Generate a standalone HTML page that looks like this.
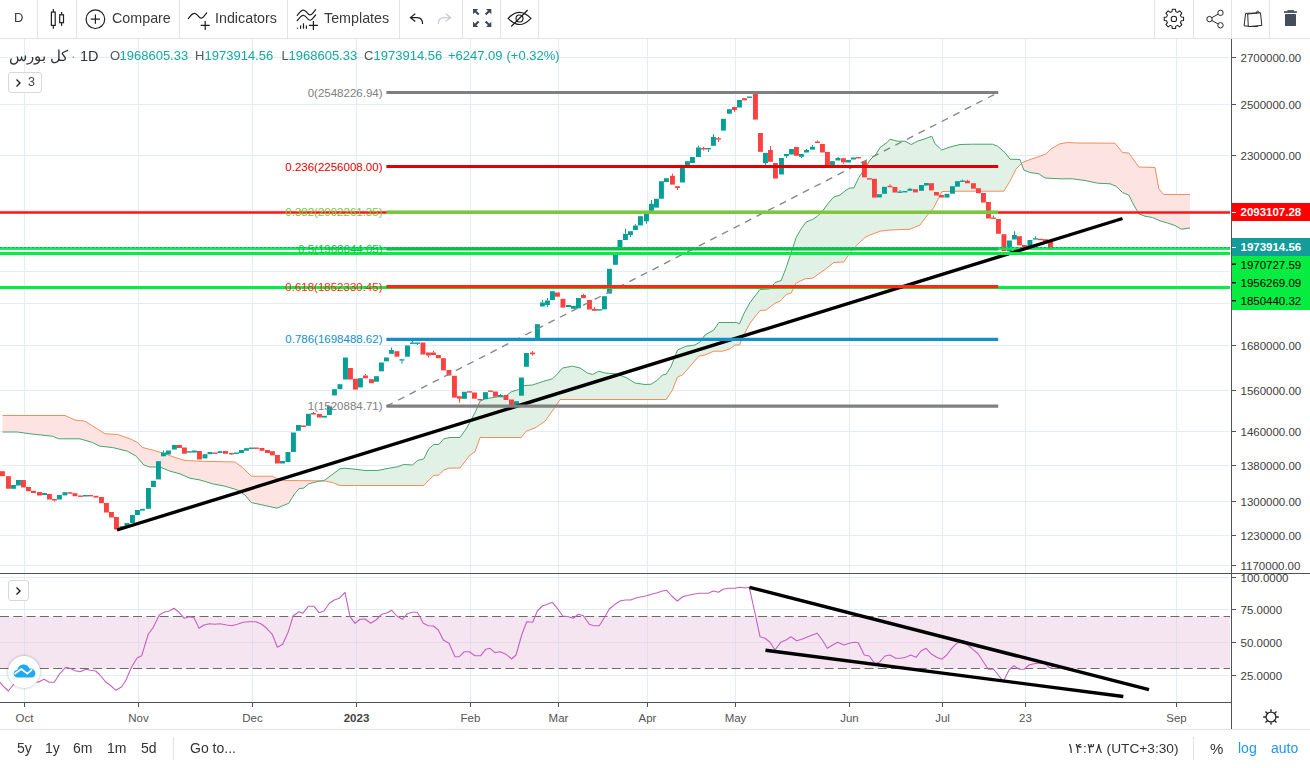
<!DOCTYPE html>
<html lang="en">
<head>
<meta charset="utf-8">
<title>Chart</title>
<style>
html,body{margin:0;padding:0;background:#fff;}
body{width:1310px;height:768px;position:relative;overflow:hidden;font-family:"Liberation Sans","Noto Sans CJK SC",sans-serif;color:#333;}
#chart{position:absolute;left:0;top:0;width:1310px;height:768px;}
.tb{position:absolute;left:0;top:0;width:1310px;height:38px;background:#fff;border-bottom:1px solid #e0e3eb;box-sizing:content-box;}
.sep{position:absolute;top:0;width:1px;height:38px;background:#e0e3eb;}
.t{position:absolute;top:0;height:38px;line-height:36.5px;font-size:14.3px;color:#3a3a3a;white-space:nowrap;}
.ic{position:absolute;}
.t,.b,.legend,.btn span{will-change:transform;}
.bb{position:absolute;left:0;top:729px;width:1310px;height:38px;background:#fff;border-top:1px solid #e0e3eb;}
.b{position:absolute;top:0;height:37px;line-height:37px;font-size:14px;color:#333;white-space:nowrap;}
.legend{position:absolute;left:0;top:44.5px;height:22px;line-height:22px;white-space:nowrap;}
.legend span{position:absolute;top:0;}
.btn{position:absolute;box-sizing:border-box;border:1px solid #d5d8e0;border-radius:3px;background:#fff;}
</style>
</head>
<body>
<svg id="chart" width="1310" height="768" viewBox="0 0 1310 768">
<line x1="24.5" y1="39" x2="24.5" y2="702" stroke="#e3edf3" stroke-width="1"/>
<line x1="138.5" y1="39" x2="138.5" y2="702" stroke="#e3edf3" stroke-width="1"/>
<line x1="252.5" y1="39" x2="252.5" y2="702" stroke="#e3edf3" stroke-width="1"/>
<line x1="356.5" y1="39" x2="356.5" y2="702" stroke="#e3edf3" stroke-width="1"/>
<line x1="470.5" y1="39" x2="470.5" y2="702" stroke="#e3edf3" stroke-width="1"/>
<line x1="558.5" y1="39" x2="558.5" y2="702" stroke="#e3edf3" stroke-width="1"/>
<line x1="647.5" y1="39" x2="647.5" y2="702" stroke="#e3edf3" stroke-width="1"/>
<line x1="735.5" y1="39" x2="735.5" y2="702" stroke="#e3edf3" stroke-width="1"/>
<line x1="849.5" y1="39" x2="849.5" y2="702" stroke="#e3edf3" stroke-width="1"/>
<line x1="942.5" y1="39" x2="942.5" y2="702" stroke="#e3edf3" stroke-width="1"/>
<line x1="1025.5" y1="39" x2="1025.5" y2="702" stroke="#e3edf3" stroke-width="1"/>
<line x1="1176.5" y1="39" x2="1176.5" y2="702" stroke="#e3edf3" stroke-width="1"/>
<line x1="0" y1="57.5" x2="1230" y2="57.5" stroke="#e3edf3" stroke-width="1"/>
<line x1="0" y1="104.5" x2="1230" y2="104.5" stroke="#e3edf3" stroke-width="1"/>
<line x1="0" y1="155.5" x2="1230" y2="155.5" stroke="#e3edf3" stroke-width="1"/>
<line x1="0" y1="345.5" x2="1230" y2="345.5" stroke="#e3edf3" stroke-width="1"/>
<line x1="0" y1="390.5" x2="1230" y2="390.5" stroke="#e3edf3" stroke-width="1"/>
<line x1="0" y1="431.5" x2="1230" y2="431.5" stroke="#e3edf3" stroke-width="1"/>
<line x1="0" y1="465.5" x2="1230" y2="465.5" stroke="#e3edf3" stroke-width="1"/>
<line x1="0" y1="501.5" x2="1230" y2="501.5" stroke="#e3edf3" stroke-width="1"/>
<line x1="0" y1="535.5" x2="1230" y2="535.5" stroke="#e3edf3" stroke-width="1"/>
<line x1="0" y1="565.5" x2="1230" y2="565.5" stroke="#e3edf3" stroke-width="1"/>
<line x1="0" y1="210.5" x2="1230" y2="210.5" stroke="#e3edf3" stroke-width="1"/>
<line x1="0" y1="271.5" x2="1230" y2="271.5" stroke="#e3edf3" stroke-width="1"/>
<line x1="0" y1="303.5" x2="1230" y2="303.5" stroke="#e3edf3" stroke-width="1"/>
<line x1="0" y1="577.5" x2="1230" y2="577.5" stroke="#e3edf3" stroke-width="1"/>
<line x1="0" y1="609.5" x2="1230" y2="609.5" stroke="#e3edf3" stroke-width="1"/>
<line x1="0" y1="642.5" x2="1230" y2="642.5" stroke="#e3edf3" stroke-width="1"/>
<line x1="0" y1="675.5" x2="1230" y2="675.5" stroke="#e3edf3" stroke-width="1"/>
<polygon points="2.5,415.5 65,415.5 75,420 85,421.2 95,427.5 105,433.8 117.5,434.5 130,438.8 137.5,442.5 142.5,447.5 152.5,450 162.5,453 175,457.5 185,460.5 200,461.2 235,462 242.5,467.5 251.2,476.2 272.5,476.2 277.5,478.8 285,480.5 315,480.8 323.8,480.8 323.8,480.8 318.8,481.2 308.8,483.8 303.8,488 298.8,488.8 293.8,495 288.8,503.2 277,508.2 262.5,505 251.2,502.5 245,495 237.5,490 225,486.2 212.5,483.8 200,480 190,478.2 180,473.8 170,471.2 160,467 150,467 143.8,465 136.2,456.2 127.5,451.2 112.5,447.5 100,446.2 92.5,442.5 80,438.8 58.8,438.8 52.5,436.2 30,433.8 17.5,432 2.5,432" fill="#fde4e2"/>
<polygon points="323.8,480.8 330,476.2 340,468.8 345,468.2 355,469.2 365,470.5 377.5,470.5 390,468 397.5,466.8 403.8,464.5 412.5,465 417.5,460.5 423.8,458.8 428.8,448.8 433.8,444.5 438.8,444.5 443.8,438.8 450,437.5 460,437.5 466.2,428.8 471.2,420 476.2,410 480,401.2 485,398.8 497.5,396.8 505,396.8 511.2,391.8 518.8,389.5 525,385.5 532.5,385 543.8,381.2 552.5,378.8 557.5,373.8 562.5,368 572.5,366.2 580,368 587.5,373 592.5,374.5 598.8,371.2 605,373 615,373.8 622.5,376.2 627,378 635,383 645,384.5 651.2,384.2 657.5,380 662.5,375 666.2,374.2 671.2,366.2 677.5,350 686.2,346.2 695,345 700,342 705,335 713.8,330 718.8,322.5 736.2,322.5 739.5,323.8 743.8,313.8 750,302.5 760,289.5 770,288.8 775,282.5 781.2,280.5 786.2,267.5 791.2,252.5 796.2,237.5 801.2,228.8 806.2,222 812.5,219.5 817.5,216.2 822.5,211.2 828.8,202.5 833.8,197 840,195 846.2,190 850,188 853.8,188 858.8,177.5 863.8,170 870,160 876.2,153.8 880,147.5 887,142.5 890,139.2 897.5,141.2 905,141.2 911.2,144.5 917.5,141.2 925,138.8 931.8,136.2 935,143.8 941.8,150 950,147 960,144.5 972.5,144.2 992.5,144.2 997.5,146.2 1005,152.5 1010,159.2 1020,159.5 1022.5,166.5 1022.5,162.5 1016.2,168.8 1010,181.2 1003.8,191.2 960,191.2 942,191.5 939.5,196.2 933.8,207.5 927.5,215 920,225 910,229.2 890,230 880,231.2 870,235 865,237.5 857.5,244.5 850,252.5 843.8,262 833.8,262.5 825,269.5 812.5,278.2 805,278.8 796.2,283 791.2,293 786.2,294.5 780,301.2 775,303.2 766.2,310 760,310.5 750,323.2 743.8,335 739.5,345 735,345 730,348.8 722.5,351.2 713.8,351.2 705,355 698.8,356.2 691.2,365 682.5,375 677.5,377 672.5,390 666.2,399.5 627,399.5 577,399.5 560,399.5 553.8,408.8 545,421.2 535,428 526.2,431.2 521.2,437.5 480,437.5 475,451.8 470,455 460,468 448.8,468.2 443.8,470 438.8,475 433.8,475.5 428.8,480 423.8,485.5 340,485.5 332.5,482.5 323.8,480.8" fill="#e2f1e5"/>
<polygon points="1022.5,162.5 1030,159.5 1040,156.2 1046.2,153.8 1051.2,148.8 1060,143.8 1067.5,142.5 1077.5,143 1115,143.2 1122.5,152.5 1128.8,153 1133.8,160 1138.8,167 1155,167.5 1158.8,188.8 1163.8,194.5 1190,194.5 1190,228 1181.2,229.2 1175,225.5 1167.5,223 1160,220.8 1152.5,217.5 1145,216.2 1138.8,213.8 1132.5,202.5 1128.8,195 1122.5,192.5 1116.2,186.2 1110,183.8 1097.5,183.2 1085,180.5 1072.5,178.8 1060,178.8 1045,178 1038.8,173.8 1030,172.5 1023.8,170 1022.5,166.5" fill="#fde4e2"/>
<polyline points="2.5,415.5 65,415.5 75,420 85,421.2 95,427.5 105,433.8 117.5,434.5 130,438.8 137.5,442.5 142.5,447.5 152.5,450 162.5,453 175,457.5 185,460.5 200,461.2 235,462 242.5,467.5 251.2,476.2 272.5,476.2 277.5,478.8 285,480.5 315,480.8 323.8,480.8 332.5,482.5 340,485.5 423.8,485.5 428.8,480 433.8,475.5 438.8,475 443.8,470 448.8,468.2 460,468 470,455 475,451.8 480,437.5 521.2,437.5 526.2,431.2 535,428 545,421.2 553.8,408.8 560,399.5 577,399.5 627,399.5 666.2,399.5 672.5,390 677.5,377 682.5,375 691.2,365 698.8,356.2 705,355 713.8,351.2 722.5,351.2 730,348.8 735,345 739.5,345 743.8,335 750,323.2 760,310.5 766.2,310 775,303.2 780,301.2 786.2,294.5 791.2,293 796.2,283 805,278.8 812.5,278.2 825,269.5 833.8,262.5 843.8,262 850,252.5 857.5,244.5 865,237.5 870,235 880,231.2 890,230 910,229.2 920,225 927.5,215 933.8,207.5 939.5,196.2 942,191.5 960,191.2 1003.8,191.2 1010,181.2 1016.2,168.8 1022.5,162.5 1030,159.5 1040,156.2 1046.2,153.8 1051.2,148.8 1060,143.8 1067.5,142.5 1077.5,143 1115,143.2 1122.5,152.5 1128.8,153 1133.8,160 1138.8,167 1155,167.5 1158.8,188.8 1163.8,194.5 1190,194.5" fill="none" stroke="#f48d5e" stroke-width="1" stroke-linejoin="round"/>
<polyline points="2.5,432 17.5,432 30,433.8 52.5,436.2 58.8,438.8 80,438.8 92.5,442.5 100,446.2 112.5,447.5 127.5,451.2 136.2,456.2 143.8,465 150,467 160,467 170,471.2 180,473.8 190,478.2 200,480 212.5,483.8 225,486.2 237.5,490 245,495 251.2,502.5 262.5,505 277,508.2 288.8,503.2 293.8,495 298.8,488.8 303.8,488 308.8,483.8 318.8,481.2 323.8,480.8 330,476.2 340,468.8 345,468.2 355,469.2 365,470.5 377.5,470.5 390,468 397.5,466.8 403.8,464.5 412.5,465 417.5,460.5 423.8,458.8 428.8,448.8 433.8,444.5 438.8,444.5 443.8,438.8 450,437.5 460,437.5 466.2,428.8 471.2,420 476.2,410 480,401.2 485,398.8 497.5,396.8 505,396.8 511.2,391.8 518.8,389.5 525,385.5 532.5,385 543.8,381.2 552.5,378.8 557.5,373.8 562.5,368 572.5,366.2 580,368 587.5,373 592.5,374.5 598.8,371.2 605,373 615,373.8 622.5,376.2 627,378 635,383 645,384.5 651.2,384.2 657.5,380 662.5,375 666.2,374.2 671.2,366.2 677.5,350 686.2,346.2 695,345 700,342 705,335 713.8,330 718.8,322.5 736.2,322.5 739.5,323.8 743.8,313.8 750,302.5 760,289.5 770,288.8 775,282.5 781.2,280.5 786.2,267.5 791.2,252.5 796.2,237.5 801.2,228.8 806.2,222 812.5,219.5 817.5,216.2 822.5,211.2 828.8,202.5 833.8,197 840,195 846.2,190 850,188 853.8,188 858.8,177.5 863.8,170 870,160 876.2,153.8 880,147.5 887,142.5 890,139.2 897.5,141.2 905,141.2 911.2,144.5 917.5,141.2 925,138.8 931.8,136.2 935,143.8 941.8,150 950,147 960,144.5 972.5,144.2 992.5,144.2 997.5,146.2 1005,152.5 1010,159.2 1020,159.5 1023.8,170 1030,172.5 1038.8,173.8 1045,178 1060,178.8 1072.5,178.8 1085,180.5 1097.5,183.2 1110,183.8 1116.2,186.2 1122.5,192.5 1128.8,195 1132.5,202.5 1138.8,213.8 1145,216.2 1152.5,217.5 1160,220.8 1167.5,223 1175,225.5 1181.2,229.2 1190,228" fill="none" stroke="#45a56d" stroke-width="1" stroke-linejoin="round"/>
<rect x="0" y="471.2" width="4.9" height="5" fill="#fd4141"/>
<rect x="6" y="476.2" width="4.9" height="12.5" fill="#fd4141"/>
<rect x="11" y="485" width="4.9" height="3.8" fill="#049f97"/>
<rect x="16" y="480" width="4.9" height="5.5" fill="#049f97"/>
<rect x="21" y="480" width="4.9" height="7.5" fill="#fd4141"/>
<rect x="26" y="487" width="4.9" height="4.2" fill="#fd4141"/>
<rect x="31" y="490.8" width="4.9" height="2.2" fill="#fd4141"/>
<rect x="37" y="492" width="4.9" height="3.5" fill="#fd4141"/>
<rect x="42" y="493" width="4.9" height="2" fill="#049f97"/>
<rect x="47" y="494" width="4.9" height="5.5" fill="#fd4141"/>
<rect x="52" y="499" width="4.9" height="1.5" fill="#fd4141"/>
<rect x="54" y="500.5" width="1" height="1" fill="#fd4141"/>
<rect x="57" y="495" width="4.9" height="4.5" fill="#049f97"/>
<rect x="62.5" y="492.2" width="4.9" height="3.2" fill="#049f97"/>
<rect x="67.5" y="492.2" width="4.9" height="1.5" fill="#fd4141"/>
<rect x="72.5" y="493.2" width="4.9" height="3" fill="#fd4141"/>
<rect x="78" y="495.5" width="4.9" height="1.4" fill="#fd4141"/>
<rect x="83" y="495" width="4.9" height="1.5" fill="#049f97"/>
<rect x="88" y="495" width="4.9" height="1.4" fill="#fd4141"/>
<rect x="93.5" y="495.8" width="4.9" height="1.8" fill="#fd4141"/>
<rect x="99" y="497" width="4.9" height="6.2" fill="#fd4141"/>
<rect x="104" y="503" width="4.9" height="9.5" fill="#fd4141"/>
<rect x="109" y="512" width="4.9" height="5.5" fill="#fd4141"/>
<rect x="114" y="517" width="4.9" height="12.5" fill="#fd4141"/>
<rect x="119.5" y="526.2" width="4.9" height="1.8" fill="#049f97"/>
<rect x="124.5" y="523" width="4.9" height="3.2" fill="#049f97"/>
<rect x="130" y="515" width="4.9" height="8" fill="#049f97"/>
<rect x="135" y="510" width="4.9" height="5" fill="#049f97"/>
<rect x="140" y="508.8" width="4.9" height="1.8" fill="#049f97"/>
<rect x="146" y="488" width="4.9" height="20.8" fill="#049f97"/>
<rect x="151" y="480.8" width="4.9" height="6.2" fill="#049f97"/>
<rect x="156" y="461.2" width="4.9" height="18.2" fill="#049f97"/>
<rect x="161" y="452.5" width="4.9" height="3.8" fill="#049f97"/>
<rect x="163" y="450.5" width="1" height="2" fill="#049f97"/>
<rect x="166" y="450.5" width="4.9" height="4" fill="#049f97"/>
<rect x="172" y="445" width="4.9" height="4.5" fill="#049f97"/>
<rect x="177" y="445" width="4.9" height="3" fill="#fd4141"/>
<rect x="182" y="447.5" width="4.9" height="6.2" fill="#fd4141"/>
<rect x="187" y="451.2" width="4.9" height="1.4" fill="#049f97"/>
<rect x="192" y="450.5" width="4.9" height="2" fill="#049f97"/>
<rect x="197" y="451" width="4.9" height="8.5" fill="#fd4141"/>
<rect x="202.5" y="454.2" width="4.9" height="4.2" fill="#049f97"/>
<rect x="207.5" y="452" width="4.9" height="2.2" fill="#049f97"/>
<rect x="212.5" y="452.5" width="4.9" height="1.4" fill="#fd4141"/>
<rect x="217.5" y="451.2" width="4.9" height="1.8" fill="#049f97"/>
<rect x="223" y="451" width="4.9" height="2.8" fill="#fd4141"/>
<rect x="229" y="453" width="4.9" height="1.4" fill="#fd4141"/>
<rect x="231" y="454.4" width="1" height="0.6" fill="#fd4141"/>
<rect x="234" y="452.5" width="4.9" height="1.4" fill="#049f97"/>
<rect x="239" y="450" width="4.9" height="3" fill="#049f97"/>
<rect x="244" y="448.2" width="4.9" height="2.5" fill="#049f97"/>
<rect x="249" y="447.5" width="4.9" height="1.5" fill="#049f97"/>
<rect x="254" y="447.5" width="4.9" height="1.4" fill="#fd4141"/>
<rect x="259.5" y="448" width="4.9" height="2.8" fill="#fd4141"/>
<rect x="265" y="450" width="4.9" height="3" fill="#fd4141"/>
<rect x="270" y="451.2" width="4.9" height="4.2" fill="#fd4141"/>
<rect x="275" y="455" width="4.9" height="8.5" fill="#fd4141"/>
<rect x="280" y="461" width="4.9" height="2.5" fill="#049f97"/>
<rect x="285.5" y="452" width="4.9" height="10" fill="#049f97"/>
<rect x="291" y="432.5" width="4.9" height="19.5" fill="#049f97"/>
<rect x="296" y="425" width="4.9" height="5.8" fill="#049f97"/>
<rect x="301" y="425.5" width="4.9" height="1.5" fill="#fd4141"/>
<rect x="306" y="413.8" width="4.9" height="12" fill="#049f97"/>
<rect x="311" y="413" width="4.9" height="1.5" fill="#fd4141"/>
<rect x="313" y="412" width="1" height="1" fill="#fd4141"/>
<rect x="317" y="414" width="4.9" height="3.5" fill="#fd4141"/>
<rect x="322" y="415.8" width="4.9" height="1.8" fill="#049f97"/>
<rect x="327" y="406.2" width="4.9" height="8.8" fill="#049f97"/>
<rect x="332" y="389.2" width="4.9" height="6.2" fill="#049f97"/>
<rect x="337.5" y="384.2" width="4.9" height="5" fill="#049f97"/>
<rect x="343" y="357.5" width="4.9" height="22" fill="#049f97"/>
<rect x="348" y="368" width="4.9" height="11.5" fill="#fd4141"/>
<rect x="353" y="378.8" width="4.9" height="10.8" fill="#fd4141"/>
<rect x="358" y="378.2" width="4.9" height="9.2" fill="#049f97"/>
<rect x="363" y="375.5" width="4.9" height="2.8" fill="#fd4141"/>
<rect x="365" y="374" width="1" height="1.5" fill="#fd4141"/>
<rect x="369" y="379.2" width="4.9" height="4" fill="#fd4141"/>
<rect x="374" y="376.2" width="4.9" height="5.5" fill="#049f97"/>
<rect x="379" y="362.5" width="4.9" height="8.8" fill="#049f97"/>
<rect x="384" y="357.5" width="4.9" height="3.8" fill="#049f97"/>
<rect x="389" y="350" width="4.9" height="3.8" fill="#049f97"/>
<rect x="391" y="347.5" width="1" height="2.5" fill="#049f97"/>
<rect x="394.5" y="351.2" width="4.9" height="5.5" fill="#fd4141"/>
<rect x="399.5" y="359.2" width="4.9" height="1.4" fill="#049f97"/>
<rect x="401.5" y="360.6" width="1" height="3.1" fill="#049f97"/>
<rect x="405" y="345.5" width="4.9" height="11.2" fill="#049f97"/>
<rect x="410" y="342.5" width="4.9" height="1.4" fill="#049f97"/>
<rect x="412" y="340.8" width="1" height="1.8" fill="#049f97"/>
<rect x="415" y="342.5" width="4.9" height="1.4" fill="#049f97"/>
<rect x="417" y="343.9" width="1" height="1.1" fill="#049f97"/>
<rect x="420.5" y="342.5" width="4.9" height="12" fill="#fd4141"/>
<rect x="426" y="352.5" width="4.9" height="3" fill="#fd4141"/>
<rect x="428" y="355.5" width="1" height="2" fill="#fd4141"/>
<rect x="431" y="352.5" width="4.9" height="2.5" fill="#fd4141"/>
<rect x="433" y="350.8" width="1" height="1.8" fill="#fd4141"/>
<rect x="436" y="355" width="4.9" height="3.2" fill="#fd4141"/>
<rect x="441" y="358.2" width="4.9" height="12.2" fill="#fd4141"/>
<rect x="446.5" y="370" width="4.9" height="5.5" fill="#fd4141"/>
<rect x="452" y="375.8" width="4.9" height="21.8" fill="#fd4141"/>
<rect x="457" y="396.2" width="4.9" height="2.5" fill="#fd4141"/>
<rect x="459" y="398.8" width="1" height="3.8" fill="#fd4141"/>
<rect x="462" y="391.8" width="4.9" height="7" fill="#049f97"/>
<rect x="467" y="391.2" width="4.9" height="1.4" fill="#fd4141"/>
<rect x="472" y="392.5" width="4.9" height="6.2" fill="#fd4141"/>
<rect x="477.5" y="399" width="4.9" height="1.4" fill="#fd4141"/>
<rect x="483" y="392.2" width="4.9" height="7" fill="#049f97"/>
<rect x="488" y="390.5" width="4.9" height="1.4" fill="#fd4141"/>
<rect x="493" y="391.5" width="4.9" height="5.2" fill="#fd4141"/>
<rect x="498" y="395" width="4.9" height="1.8" fill="#049f97"/>
<rect x="500" y="393.8" width="1" height="1.2" fill="#049f97"/>
<rect x="503.5" y="395" width="4.9" height="5" fill="#fd4141"/>
<rect x="509" y="399.5" width="4.9" height="5.5" fill="#fd4141"/>
<rect x="514" y="401.2" width="4.9" height="3.8" fill="#049f97"/>
<rect x="519" y="377.5" width="4.9" height="18.2" fill="#049f97"/>
<rect x="524" y="353" width="4.9" height="13.8" fill="#049f97"/>
<rect x="530" y="352.5" width="4.9" height="1.8" fill="#fd4141"/>
<rect x="532" y="351" width="1" height="1.5" fill="#fd4141"/>
<rect x="532" y="354.2" width="1" height="1.5" fill="#fd4141"/>
<rect x="535" y="324.2" width="4.9" height="14.5" fill="#049f97"/>
<rect x="540" y="302.5" width="4.9" height="4" fill="#049f97"/>
<rect x="542" y="300" width="1" height="2.5" fill="#049f97"/>
<rect x="545" y="300.5" width="4.9" height="4.5" fill="#049f97"/>
<rect x="547" y="298" width="1" height="2.5" fill="#049f97"/>
<rect x="547" y="305" width="1" height="2" fill="#049f97"/>
<rect x="550" y="291.2" width="4.9" height="8.8" fill="#049f97"/>
<rect x="555" y="292.5" width="4.9" height="4.2" fill="#fd4141"/>
<rect x="560.5" y="298.8" width="4.9" height="8.8" fill="#fd4141"/>
<rect x="566" y="305" width="4.9" height="2" fill="#049f97"/>
<rect x="571" y="305.8" width="4.9" height="3" fill="#049f97"/>
<rect x="576" y="298" width="4.9" height="10.2" fill="#049f97"/>
<rect x="581" y="295" width="4.9" height="3.2" fill="#fd4141"/>
<rect x="583" y="293.8" width="1" height="1.2" fill="#fd4141"/>
<rect x="587" y="300" width="4.9" height="9.5" fill="#fd4141"/>
<rect x="592" y="308.8" width="4.9" height="2" fill="#fd4141"/>
<rect x="594" y="307" width="1" height="1.8" fill="#fd4141"/>
<rect x="597" y="309.2" width="4.9" height="1.4" fill="#049f97"/>
<rect x="602" y="296.2" width="4.9" height="13.2" fill="#049f97"/>
<rect x="607" y="268.8" width="4.9" height="24.8" fill="#049f97"/>
<rect x="613" y="255" width="4.9" height="9.8" fill="#049f97"/>
<rect x="617.5" y="240" width="4.9" height="7.5" fill="#049f97"/>
<rect x="623" y="233.8" width="4.9" height="6.2" fill="#049f97"/>
<rect x="625" y="228.8" width="1" height="5" fill="#049f97"/>
<rect x="628" y="231.2" width="4.9" height="3.8" fill="#049f97"/>
<rect x="630" y="235" width="1" height="2" fill="#049f97"/>
<rect x="633" y="225.5" width="4.9" height="4.5" fill="#049f97"/>
<rect x="635" y="224.2" width="1" height="1.2" fill="#049f97"/>
<rect x="638" y="216.2" width="4.9" height="9.2" fill="#049f97"/>
<rect x="644" y="213.8" width="4.9" height="7.5" fill="#049f97"/>
<rect x="646" y="221.2" width="1" height="2.5" fill="#049f97"/>
<rect x="649" y="203.8" width="4.9" height="7.5" fill="#049f97"/>
<rect x="651" y="200" width="1" height="3.8" fill="#049f97"/>
<rect x="654" y="198.8" width="4.9" height="8.8" fill="#049f97"/>
<rect x="659" y="181.2" width="4.9" height="17.5" fill="#049f97"/>
<rect x="664" y="178.2" width="4.9" height="3.8" fill="#049f97"/>
<rect x="670" y="175.8" width="4.9" height="8.8" fill="#fd4141"/>
<rect x="672" y="173.8" width="1" height="2" fill="#fd4141"/>
<rect x="675" y="186.2" width="4.9" height="1.8" fill="#fd4141"/>
<rect x="677" y="188" width="1" height="2" fill="#fd4141"/>
<rect x="680" y="167.5" width="4.9" height="15" fill="#049f97"/>
<rect x="685" y="161.2" width="4.9" height="4.2" fill="#049f97"/>
<rect x="690" y="157" width="4.9" height="6" fill="#049f97"/>
<rect x="696" y="147.5" width="4.9" height="9.5" fill="#049f97"/>
<rect x="698" y="145.8" width="1" height="1.8" fill="#049f97"/>
<rect x="701" y="148" width="4.9" height="1.4" fill="#fd4141"/>
<rect x="703" y="146.8" width="1" height="1.2" fill="#fd4141"/>
<rect x="703" y="149.4" width="1" height="1.1" fill="#fd4141"/>
<rect x="706" y="148" width="4.9" height="1.4" fill="#049f97"/>
<rect x="708" y="149.4" width="1" height="2.6" fill="#049f97"/>
<rect x="711" y="137" width="4.9" height="8.8" fill="#049f97"/>
<rect x="713" y="134.2" width="1" height="2.8" fill="#049f97"/>
<rect x="716" y="138.2" width="4.9" height="1.4" fill="#fd4141"/>
<rect x="718" y="137" width="1" height="1.2" fill="#fd4141"/>
<rect x="718" y="139.7" width="1" height="2.3" fill="#fd4141"/>
<rect x="721" y="118.8" width="4.9" height="11.8" fill="#049f97"/>
<rect x="727" y="109.2" width="4.9" height="4.5" fill="#049f97"/>
<rect x="732" y="107" width="4.9" height="3" fill="#fd4141"/>
<rect x="734" y="110" width="1" height="1.8" fill="#fd4141"/>
<rect x="737" y="100" width="4.9" height="7.5" fill="#049f97"/>
<rect x="742" y="98.2" width="4.9" height="2.2" fill="#fd4141"/>
<rect x="747" y="96.5" width="4.9" height="1.4" fill="#049f97"/>
<rect x="753" y="93.8" width="4.9" height="25.8" fill="#fd4141"/>
<rect x="758" y="133" width="4.9" height="18.8" fill="#fd4141"/>
<rect x="763" y="153" width="4.9" height="10.2" fill="#049f97"/>
<rect x="765" y="163.2" width="1" height="1.8" fill="#049f97"/>
<rect x="768" y="150" width="4.9" height="11.8" fill="#fd4141"/>
<rect x="770" y="146.2" width="1" height="3.8" fill="#fd4141"/>
<rect x="773" y="163" width="4.9" height="15.5" fill="#fd4141"/>
<rect x="779" y="158" width="4.9" height="16.5" fill="#049f97"/>
<rect x="784" y="154" width="4.9" height="2.2" fill="#049f97"/>
<rect x="786" y="156.2" width="1" height="1.8" fill="#049f97"/>
<rect x="789" y="149" width="4.9" height="5.5" fill="#049f97"/>
<rect x="794" y="147" width="4.9" height="8.8" fill="#fd4141"/>
<rect x="799" y="154" width="4.9" height="2.8" fill="#049f97"/>
<rect x="801" y="156.8" width="1" height="1.2" fill="#049f97"/>
<rect x="804" y="150" width="4.9" height="2.5" fill="#049f97"/>
<rect x="806" y="149" width="1" height="1" fill="#049f97"/>
<rect x="810" y="146.8" width="4.9" height="2.8" fill="#049f97"/>
<rect x="812" y="145" width="1" height="1.8" fill="#049f97"/>
<rect x="815" y="141.5" width="4.9" height="1.5" fill="#fd4141"/>
<rect x="817" y="140.5" width="1" height="1" fill="#fd4141"/>
<rect x="820" y="144" width="4.9" height="8.5" fill="#fd4141"/>
<rect x="825" y="152" width="4.9" height="13" fill="#fd4141"/>
<rect x="830" y="161.2" width="4.9" height="3.8" fill="#049f97"/>
<rect x="835.5" y="158" width="4.9" height="2.5" fill="#049f97"/>
<rect x="837.5" y="157" width="1" height="1" fill="#049f97"/>
<rect x="841" y="158.2" width="4.9" height="4.2" fill="#fd4141"/>
<rect x="843" y="162.5" width="1" height="1.2" fill="#fd4141"/>
<rect x="846" y="160" width="4.9" height="2.5" fill="#049f97"/>
<rect x="851" y="157.5" width="4.9" height="2" fill="#049f97"/>
<rect x="856" y="157" width="4.9" height="1.4" fill="#fd4141"/>
<rect x="862" y="161.2" width="4.9" height="16.2" fill="#fd4141"/>
<rect x="867" y="178.2" width="4.9" height="1.4" fill="#fd4141"/>
<rect x="872" y="178.8" width="4.9" height="18.8" fill="#fd4141"/>
<rect x="877" y="194.2" width="4.9" height="3.2" fill="#049f97"/>
<rect x="882" y="186.8" width="4.9" height="7" fill="#049f97"/>
<rect x="887.5" y="185.8" width="4.9" height="1.4" fill="#fd4141"/>
<rect x="889.5" y="184.2" width="1" height="1.5" fill="#fd4141"/>
<rect x="892.5" y="187" width="4.9" height="5.5" fill="#fd4141"/>
<rect x="897.5" y="191.5" width="4.9" height="1.4" fill="#049f97"/>
<rect x="899.5" y="190" width="1" height="1.5" fill="#049f97"/>
<rect x="902.5" y="191" width="4.9" height="1.4" fill="#049f97"/>
<rect x="907.5" y="188.8" width="4.9" height="2" fill="#049f97"/>
<rect x="909.5" y="187.8" width="1" height="1" fill="#049f97"/>
<rect x="913" y="189.2" width="4.9" height="3.2" fill="#fd4141"/>
<rect x="919" y="185" width="4.9" height="5.8" fill="#049f97"/>
<rect x="924" y="183" width="4.9" height="2.5" fill="#049f97"/>
<rect x="929" y="183.2" width="4.9" height="7.2" fill="#fd4141"/>
<rect x="934" y="192" width="4.9" height="3.5" fill="#fd4141"/>
<rect x="939" y="195" width="4.9" height="2.5" fill="#fd4141"/>
<rect x="944.5" y="193.8" width="4.9" height="3.8" fill="#049f97"/>
<rect x="950" y="186.2" width="4.9" height="7.5" fill="#049f97"/>
<rect x="955" y="181.2" width="4.9" height="5.5" fill="#049f97"/>
<rect x="960" y="180.5" width="4.9" height="1.4" fill="#049f97"/>
<rect x="962" y="179.5" width="1" height="1" fill="#049f97"/>
<rect x="965" y="180.8" width="4.9" height="2.5" fill="#fd4141"/>
<rect x="967" y="179.8" width="1" height="1" fill="#fd4141"/>
<rect x="971" y="183.2" width="4.9" height="5.5" fill="#fd4141"/>
<rect x="976" y="188.2" width="4.9" height="5" fill="#fd4141"/>
<rect x="981" y="193" width="4.9" height="9.5" fill="#fd4141"/>
<rect x="986" y="202" width="4.9" height="16.5" fill="#fd4141"/>
<rect x="991" y="217.5" width="4.9" height="1.4" fill="#fd4141"/>
<rect x="993" y="215.5" width="1" height="2" fill="#fd4141"/>
<rect x="996" y="219" width="4.9" height="14.8" fill="#fd4141"/>
<rect x="1001.5" y="234.2" width="4.9" height="17" fill="#fd4141"/>
<rect x="1007" y="240.5" width="4.9" height="10.8" fill="#049f97"/>
<rect x="1012" y="235" width="4.9" height="4.5" fill="#049f97"/>
<rect x="1014" y="231.2" width="1" height="3.8" fill="#049f97"/>
<rect x="1017" y="236.2" width="4.9" height="9.2" fill="#fd4141"/>
<rect x="1022" y="245" width="4.9" height="2.5" fill="#fd4141"/>
<rect x="1027.5" y="240" width="4.9" height="7.5" fill="#049f97"/>
<rect x="1033" y="238.2" width="4.9" height="1.4" fill="#049f97"/>
<rect x="1035" y="236.2" width="1" height="2" fill="#049f97"/>
<rect x="1038" y="238.8" width="4.9" height="1.4" fill="#fd4141"/>
<rect x="1043" y="239.2" width="4.9" height="2" fill="#fd4141"/>
<rect x="1048" y="240.8" width="4.9" height="8.5" fill="#fd4141"/>
<line x1="0" y1="212.5" x2="1230" y2="212.5" stroke="#ff1414" stroke-width="2.4"/>
<line x1="0" y1="248.6" x2="1230" y2="248.6" stroke="#04ec46" stroke-width="3" stroke-opacity="0.92"/>
<line x1="0" y1="287.5" x2="1230" y2="287.5" stroke="#04ec46" stroke-width="3"/>
<line x1="0" y1="247.5" x2="1230" y2="247.5" stroke="#0f9f98" stroke-width="1" stroke-dasharray="2,2"/>
<line x1="117" y1="530" x2="1122.5" y2="218.5" stroke="#000" stroke-width="3.4" stroke-linecap="butt"/>
<line x1="386.4" y1="406.2" x2="998.2" y2="92.5" stroke="#858585" stroke-width="1.35" stroke-dasharray="7,6"/>
<line x1="386.4" y1="92.5" x2="998.2" y2="92.5" stroke="#808080" stroke-width="3.2"/>
<line x1="386.4" y1="166.5" x2="998.2" y2="166.5" stroke="#e00000" stroke-width="3.2"/>
<line x1="386.4" y1="212.3" x2="998.2" y2="212.3" stroke="#7cc73a" stroke-width="3.4"/>
<line x1="386.4" y1="249" x2="998.2" y2="249" stroke="#06c240" stroke-width="3.2"/>
<line x1="386.4" y1="286.6" x2="998.2" y2="286.6" stroke="#ff2a12" stroke-width="3.2"/>
<line x1="386.4" y1="339.3" x2="998.2" y2="339.3" stroke="#1390c8" stroke-width="3.2"/>
<line x1="386.4" y1="406.2" x2="998.2" y2="406.2" stroke="#808080" stroke-width="3.2"/>
<line x1="0" y1="253.5" x2="1230" y2="253.5" stroke="#04ec46" stroke-width="3"/>
<text x="382.5" y="96.5" text-anchor="end" font-size="11.5" fill="#808080" font-family="Liberation Sans, sans-serif">0(2548226.94)</text>
<text x="382.5" y="170.5" text-anchor="end" font-size="11.5" fill="#e00000" font-family="Liberation Sans, sans-serif">0.236(2256008.00)</text>
<text x="382.5" y="216.3" text-anchor="end" font-size="11.5" fill="#7cc73a" font-family="Liberation Sans, sans-serif">0.382(2092261.35)</text>
<text x="382.5" y="253" text-anchor="end" font-size="11.5" fill="#06c240" font-family="Liberation Sans, sans-serif">0.5(1968644.05)</text>
<text x="382.5" y="290.6" text-anchor="end" font-size="11.5" fill="#ff2a12" font-family="Liberation Sans, sans-serif">0.618(1852330.45)</text>
<text x="382.5" y="343.3" text-anchor="end" font-size="11.5" fill="#1390c8" font-family="Liberation Sans, sans-serif">0.786(1698488.62)</text>
<text x="382.5" y="410.2" text-anchor="end" font-size="11.5" fill="#808080" font-family="Liberation Sans, sans-serif">1(1520884.71)</text>
<rect x="0" y="616.5" width="1230" height="52" fill="#f4e5f1"/>
<line x1="0" y1="642.5" x2="1230" y2="642.5" stroke="#e6dbe9" stroke-width="1"/>
<line x1="24.5" y1="617" x2="24.5" y2="668" stroke="#e3dbe9" stroke-width="1"/>
<line x1="138.5" y1="617" x2="138.5" y2="668" stroke="#e3dbe9" stroke-width="1"/>
<line x1="252.5" y1="617" x2="252.5" y2="668" stroke="#e3dbe9" stroke-width="1"/>
<line x1="356.5" y1="617" x2="356.5" y2="668" stroke="#e3dbe9" stroke-width="1"/>
<line x1="470.5" y1="617" x2="470.5" y2="668" stroke="#e3dbe9" stroke-width="1"/>
<line x1="558.5" y1="617" x2="558.5" y2="668" stroke="#e3dbe9" stroke-width="1"/>
<line x1="647.5" y1="617" x2="647.5" y2="668" stroke="#e3dbe9" stroke-width="1"/>
<line x1="735.5" y1="617" x2="735.5" y2="668" stroke="#e3dbe9" stroke-width="1"/>
<line x1="849.5" y1="617" x2="849.5" y2="668" stroke="#e3dbe9" stroke-width="1"/>
<line x1="942.5" y1="617" x2="942.5" y2="668" stroke="#e3dbe9" stroke-width="1"/>
<line x1="1025.5" y1="617" x2="1025.5" y2="668" stroke="#e3dbe9" stroke-width="1"/>
<line x1="1176.5" y1="617" x2="1176.5" y2="668" stroke="#e3dbe9" stroke-width="1"/>
<line x1="0" y1="616.5" x2="1230" y2="616.5" stroke="#6b6b6b" stroke-width="1" stroke-dasharray="9,4.3"/>
<line x1="0" y1="668.5" x2="1230" y2="668.5" stroke="#6b6b6b" stroke-width="1" stroke-dasharray="9,4.3"/>
<polyline points="0,682.3 2.7,685.7 8.3,691 14,684 20,678.3 30,680 38.3,682.3 44,679.3 49.3,682.3 54.3,682.3 60,673.3 65.7,667.3 70,668.3 75,670.7 80,671.7 86,669.3 90.7,670.3 95.7,671 100,675 106,682.3 110,685 116,690.3 121.7,686.7 126,680 131.7,666.7 137.3,657.7 141.7,655.7 148.3,634 153.3,627.3 159.3,615 164,612.3 169.3,611 174,608.3 178.3,611.7 184.3,618.3 189.3,616.7 194,617.7 199,628.3 204,625 209.3,623.7 215,624.3 220,623.7 226.7,625 231.7,625.7 237.3,624.3 243.3,622.3 249.3,621.7 256,621.7 261.7,624.3 266.7,628.3 272.3,634.3 277.3,647.3 282.7,644.3 288.3,631.7 293.3,615.7 299,611.7 302.7,613.3 308.3,606.3 314,606.3 319,612.7 324,611 329.3,603.3 334.3,600 339.3,598.3 345,592.3 350,616.7 355,623.3 360,619.3 365,619 370.7,623.3 376,620 381.7,614.3 386.7,613 391.7,610.3 396.7,616 402.3,619.3 407.3,613.7 412.3,612.3 417.3,612.3 423.3,623.3 428.3,625.7 433.3,626 438.3,630 443.3,640 449,643.3 455,656.7 459.3,656.7 464.3,651.7 469.3,651.7 475,655.7 480.7,655.7 485.7,649.3 490,648.3 495,652.7 500,651.7 506,654.3 511.7,659 516,655 521.7,635 526.7,621.7 532.7,622.3 537.3,611 542.3,606 547.3,604.3 552.3,602.3 557.3,608.3 562.7,616 568.3,616.7 573.3,618.3 578.3,614.3 583.3,615.7 589.3,624.3 594,625.7 599.3,625.7 604.3,617.7 609.3,609 615,604.3 620,601 625,600 630.7,600 636.7,597.7 641.7,596.7 646.7,595.7 652.3,594 657.3,592.7 662.3,591 666.7,590.3 671.7,596 677.3,601 682.7,596.7 688.3,595.3 693.3,594.3 699.3,593.3 708.3,593.3 713.3,591 718.3,592.3 723.3,589.3 728.3,588.3 735,588.3 740,587.3 745,588 749.3,587.3 754.3,610 760,636.7 765,638.3 770,642.3 775,650 780.7,642.3 786,640 791,636.7 796.7,640.7 801.7,639.3 806.7,637.3 812.3,635 817.3,633.3 822.3,640 827.3,648.3 832.7,645 837.7,642.3 844,645 849.3,643.3 854,642.3 858.3,642.7 864.3,655 869.3,656 875,664 880,661.7 885,656 890,655 895.7,658.3 900.7,658.3 905.7,657.3 910.7,655 916,657.3 921,651 926,648.3 931.7,654.3 936.7,657.3 941.7,659.3 946.7,655 951.7,648.3 956.7,643.3 961.7,642.3 966.7,644.3 971.7,648.3 978.3,654 983.3,661.7 988.3,669.3 993.3,669 998.3,675 1003.3,681.7 1009,670 1014,665.7 1019,669.3 1024,669.3 1029,665 1034,663.7 1040,663 1045,663.7 1049.3,667.7 1054.3,666 1058.3,666" fill="none" stroke="#c561c1" stroke-width="1.1" stroke-linejoin="round"/>
<line x1="749.5" y1="587.3" x2="1149" y2="689.7" stroke="#000" stroke-width="3.4"/>
<line x1="765.5" y1="650.3" x2="1123.3" y2="696.5" stroke="#000" stroke-width="3.4"/>
<rect x="0" y="573" width="1310" height="1" fill="#4f525e"/>
<rect x="0" y="702" width="1231" height="1" fill="#4f525e"/>
<rect x="24.0" y="703" width="1" height="4" fill="#4f525e"/>
<rect x="138.0" y="703" width="1" height="4" fill="#4f525e"/>
<rect x="252.0" y="703" width="1" height="4" fill="#4f525e"/>
<rect x="356.0" y="703" width="1" height="4" fill="#4f525e"/>
<rect x="470.0" y="703" width="1" height="4" fill="#4f525e"/>
<rect x="558.0" y="703" width="1" height="4" fill="#4f525e"/>
<rect x="647.0" y="703" width="1" height="4" fill="#4f525e"/>
<rect x="735.0" y="703" width="1" height="4" fill="#4f525e"/>
<rect x="849.0" y="703" width="1" height="4" fill="#4f525e"/>
<rect x="942.0" y="703" width="1" height="4" fill="#4f525e"/>
<rect x="1025.0" y="703" width="1" height="4" fill="#4f525e"/>
<rect x="1176.0" y="703" width="1" height="4" fill="#4f525e"/>
<rect x="1231" y="39" width="1" height="691" fill="#4f525e"/>
<rect x="1232" y="57" width="4" height="1" fill="#4f525e"/>
<text x="1240.5" y="61.5" font-size="11.5" font-family="Liberation Sans, sans-serif" fill="#404040">2700000.00</text>
<rect x="1232" y="104" width="4" height="1" fill="#4f525e"/>
<text x="1240.5" y="108.5" font-size="11.5" font-family="Liberation Sans, sans-serif" fill="#404040">2500000.00</text>
<rect x="1232" y="155" width="4" height="1" fill="#4f525e"/>
<text x="1240.5" y="159.5" font-size="11.5" font-family="Liberation Sans, sans-serif" fill="#404040">2300000.00</text>
<rect x="1232" y="345" width="4" height="1" fill="#4f525e"/>
<text x="1240.5" y="349.5" font-size="11.5" font-family="Liberation Sans, sans-serif" fill="#404040">1680000.00</text>
<rect x="1232" y="390" width="4" height="1" fill="#4f525e"/>
<text x="1240.5" y="394.5" font-size="11.5" font-family="Liberation Sans, sans-serif" fill="#404040">1560000.00</text>
<rect x="1232" y="431" width="4" height="1" fill="#4f525e"/>
<text x="1240.5" y="435.5" font-size="11.5" font-family="Liberation Sans, sans-serif" fill="#404040">1460000.00</text>
<rect x="1232" y="465" width="4" height="1" fill="#4f525e"/>
<text x="1240.5" y="469.5" font-size="11.5" font-family="Liberation Sans, sans-serif" fill="#404040">1380000.00</text>
<rect x="1232" y="501" width="4" height="1" fill="#4f525e"/>
<text x="1240.5" y="505.5" font-size="11.5" font-family="Liberation Sans, sans-serif" fill="#404040">1300000.00</text>
<rect x="1232" y="535" width="4" height="1" fill="#4f525e"/>
<text x="1240.5" y="539.5" font-size="11.5" font-family="Liberation Sans, sans-serif" fill="#404040">1230000.00</text>
<rect x="1232" y="565" width="4" height="1" fill="#4f525e"/>
<text x="1240.5" y="569.5" font-size="11.5" font-family="Liberation Sans, sans-serif" fill="#404040">1170000.00</text>
<rect x="1232" y="577" width="4" height="1" fill="#4f525e"/>
<text x="1240.5" y="581.5" font-size="11.5" font-family="Liberation Sans, sans-serif" fill="#404040">100.0000</text>
<rect x="1232" y="609" width="4" height="1" fill="#4f525e"/>
<text x="1240.5" y="613.5" font-size="11.5" font-family="Liberation Sans, sans-serif" fill="#404040">75.0000</text>
<rect x="1232" y="642" width="4" height="1" fill="#4f525e"/>
<text x="1240.5" y="646.5" font-size="11.5" font-family="Liberation Sans, sans-serif" fill="#404040">50.0000</text>
<rect x="1232" y="675" width="4" height="1" fill="#4f525e"/>
<text x="1240.5" y="679.5" font-size="11.5" font-family="Liberation Sans, sans-serif" fill="#404040">25.0000</text>
<rect x="1232" y="203" width="78" height="18" fill="#ff0000"/>
<rect x="1232" y="212" width="4" height="1" fill="#fff"/>
<text x="1240.5" y="216" font-size="11.5" font-family="Liberation Sans, sans-serif" font-weight="bold" fill="#fff">2093107.28</text>
<rect x="1232" y="238" width="78" height="18" fill="#149c9a"/>
<rect x="1232" y="247" width="4" height="1" fill="#fff"/>
<text x="1240.5" y="251" font-size="11.5" font-family="Liberation Sans, sans-serif" font-weight="bold" fill="#fff">1973914.56</text>
<rect x="1232" y="256" width="78" height="54" fill="#06ec40"/>
<rect x="1232" y="263.5" width="4" height="1.4" fill="#000"/>
<text x="1240.5" y="268.5" font-size="11.5" font-family="Liberation Sans, sans-serif" fill="#000">1970727.59</text>
<rect x="1232" y="282.0" width="4" height="1.4" fill="#000"/>
<text x="1240.5" y="287.0" font-size="11.5" font-family="Liberation Sans, sans-serif" fill="#000">1956269.09</text>
<rect x="1232" y="300.0" width="4" height="1.4" fill="#000"/>
<text x="1240.5" y="305.0" font-size="11.5" font-family="Liberation Sans, sans-serif" fill="#000">1850440.32</text>
<text x="24.5" y="721.8" text-anchor="middle" font-size="11.5" font-family="Liberation Sans, sans-serif" fill="#555">Oct</text>
<text x="138.5" y="721.8" text-anchor="middle" font-size="11.5" font-family="Liberation Sans, sans-serif" fill="#555">Nov</text>
<text x="252.5" y="721.8" text-anchor="middle" font-size="11.5" font-family="Liberation Sans, sans-serif" fill="#555">Dec</text>
<text x="356.5" y="721.8" text-anchor="middle" font-size="11.5" font-family="Liberation Sans, sans-serif" font-weight="bold" fill="#444">2023</text>
<text x="470.5" y="721.8" text-anchor="middle" font-size="11.5" font-family="Liberation Sans, sans-serif" fill="#555">Feb</text>
<text x="558.5" y="721.8" text-anchor="middle" font-size="11.5" font-family="Liberation Sans, sans-serif" fill="#555">Mar</text>
<text x="647.5" y="721.8" text-anchor="middle" font-size="11.5" font-family="Liberation Sans, sans-serif" fill="#555">Apr</text>
<text x="735.5" y="721.8" text-anchor="middle" font-size="11.5" font-family="Liberation Sans, sans-serif" fill="#555">May</text>
<text x="849.5" y="721.8" text-anchor="middle" font-size="11.5" font-family="Liberation Sans, sans-serif" fill="#555">Jun</text>
<text x="942.5" y="721.8" text-anchor="middle" font-size="11.5" font-family="Liberation Sans, sans-serif" fill="#555">Jul</text>
<text x="1025.5" y="721.8" text-anchor="middle" font-size="11.5" font-family="Liberation Sans, sans-serif" fill="#555">23</text>
<text x="1176.5" y="721.8" text-anchor="middle" font-size="11.5" font-family="Liberation Sans, sans-serif" fill="#555">Sep</text>
</svg>

<!-- legend -->
<div class="legend">
<span style="left:9px;font-size:15px;color:#333;" dir="rtl">کل بورس</span>
<span style="left:71px;font-size:14px;color:#999;">·</span>
<span style="left:80px;font-size:14.5px;color:#333;">1D</span>
<span style="left:110px;font-size:13px;color:#555;">O</span><span style="left:119.5px;font-size:13px;color:#16a89e;">1968605.33</span>
<span style="left:195px;font-size:13px;color:#555;">H</span><span style="left:204.5px;font-size:13px;color:#16a89e;">1973914.56</span>
<span style="left:281.5px;font-size:13px;color:#555;">L</span><span style="left:288.5px;font-size:13px;color:#16a89e;">1968605.33</span>
<span style="left:364px;font-size:13px;color:#555;">C</span><span style="left:373.5px;font-size:13px;color:#16a89e;">1973914.56</span>
<span style="left:448px;font-size:13px;color:#16a89e;">+6247.09</span>
<span style="left:506.5px;font-size:13px;color:#16a89e;">(+0.32%)</span>
</div>
<div class="btn" style="left:8px;top:71.5px;width:34px;height:21px;">
<svg class="ic" style="left:5px;top:5px" width="9" height="10" viewBox="0 0 9 10"><path d="M2.5 1.5 L6 5 L2.5 8.5" fill="none" stroke="#222" stroke-width="1.4"/></svg>
<span style="position:absolute;left:19px;top:0;line-height:19px;font-size:12.5px;color:#444;">3</span>
</div>
<div class="btn" style="left:8px;top:580px;width:21px;height:21px;">
<svg class="ic" style="left:5px;top:5px" width="9" height="10" viewBox="0 0 9 10"><path d="M2.5 1.5 L6 5 L2.5 8.5" fill="none" stroke="#222" stroke-width="1.4"/></svg>
</div>

<!-- logo -->
<div style="position:absolute;left:8px;top:656px;width:32px;height:32px;border-radius:50%;background:#fff;box-shadow:0 0 3px rgba(0,0,0,.3);"></div>
<svg class="ic" style="left:13.3px;top:663.3px" width="23" height="16" viewBox="0 0 23 16">
<path d="M5 14.5 C2 14.5 0.6 12.6 0.6 10.7 C0.6 8.6 2.2 7 4.3 7 C4.9 3.6 7.5 1.5 10.6 1.5 C13.3 1.5 15.4 3 16.4 5.4 C19.8 5.2 22.4 7.4 22.4 10.4 C22.4 12.8 20.6 14.5 18.2 14.5 Z" fill="#1eaaf1"/>
<path d="M1.5 11 L8.3 6 L14.3 10.6 L19 6.6" fill="none" stroke="#fff" stroke-width="1.8" stroke-linejoin="round"/>
</svg>

<!-- top toolbar -->
<div class="tb">
<span class="t" style="left:14px;font-size:13px;">D</span>
<div class="sep" style="left:37px"></div>
<div class="sep" style="left:76px"></div>
<span class="t" style="left:112px;">Compare</span>
<div class="sep" style="left:179px"></div>
<span class="t" style="left:215px;">Indicators</span>
<div class="sep" style="left:287px"></div>
<span class="t" style="left:324px;">Templates</span>
<div class="sep" style="left:399px"></div>
<div class="sep" style="left:462px"></div>
<div class="sep" style="left:500px"></div>
<div class="sep" style="left:538px"></div>

<div class="sep" style="left:1154px"></div>
<div class="sep" style="left:1193px"></div>
<div class="sep" style="left:1231px"></div>
<div class="sep" style="left:1269px"></div>
<svg class="ic" style="left:0;top:0" width="1310" height="38" viewBox="0 0 1310 38">
<g fill="none" stroke="#1e1e1e" stroke-width="1.2">
<rect x="51.4" y="12.1" width="3.8" height="13.3"/><path d="M53.3 9 V12.1 M53.3 25.4 V28.8"/>
<rect x="59.7" y="14.8" width="3.8" height="7.9"/><path d="M61.6 12.1 V14.8 M61.6 22.7 V25.8"/>
<circle cx="95.4" cy="19.2" r="9.3"/><path d="M95.4 14.6 V23.8 M90.8 19.2 H100"/>
<path d="M188.3 18.6 l3 -3.6 q3.2 -3.6 6.4 0.4 l0.8 1 q2.6 3.4 5.2 0.2 l3 -3.7" stroke-linecap="round" stroke-linejoin="round"/>
<path d="M205.2 20.9 V29.9 M200.7 25.4 H209.7"/>
<path d="M297.2 15.4 l3 -3.6 q3.2 -3.6 6.4 0.4 l0.8 1 q2.6 3.4 5.2 0.2 l3 -3.7" stroke-linecap="round" stroke-linejoin="round"/>
<path d="M297.2 20.7 l3 -3.6 q3.2 -3.6 6.4 0.4 l0.8 1 q2.6 3.4 5.2 0.2 l3 -3.7" stroke-linecap="round" stroke-linejoin="round"/>
<path d="M313.4 20.9 V29.9 M308.9 25.4 H317.9"/>
<path d="M297.5 27.8 V28.8 M300.6 25.4 V28.8 M303.5 23.3 V28.8 M306.4 25.4 V28.8" stroke-width="1.2"/>
<path d="M415.3 13.7 L410.3 17.6 L415.3 21.4 M410.6 17.6 H417.3 Q422.6 17.8 422.6 24" stroke-linejoin="round"/>
<path d="M508.1 18.3 Q514 12.3 519.5 12.3 Q525 12.3 531 18.3 Q525 24.5 519.5 24.5 Q514 24.5 508.1 18.3 Z" stroke-linejoin="round" stroke-width="1.2"/><circle cx="519.5" cy="18.5" r="3.5" stroke-width="1.2"/><path d="M511.2 26.5 L527.7 10" stroke-width="1.2"/>
<path d="M1171.96 11.66 L1172.28 9.23 L1175.52 9.23 L1175.84 11.66 A7.50 7.50 0 0 1 1177.65 12.40 L1179.59 10.92 L1181.88 13.21 L1180.40 15.15 A7.50 7.50 0 0 1 1181.14 16.96 L1183.57 17.28 L1183.57 20.52 L1181.14 20.84 A7.50 7.50 0 0 1 1180.40 22.65 L1181.88 24.59 L1179.59 26.88 L1177.65 25.40 A7.50 7.50 0 0 1 1175.84 26.14 L1175.52 28.57 L1172.28 28.57 L1171.96 26.14 A7.50 7.50 0 0 1 1170.15 25.40 L1168.21 26.88 L1165.92 24.59 L1167.40 22.65 A7.50 7.50 0 0 1 1166.66 20.84 L1164.23 20.52 L1164.23 17.28 L1166.66 16.96 A7.50 7.50 0 0 1 1167.40 15.15 L1165.92 13.21 L1168.21 10.92 L1170.15 12.40 A7.50 7.50 0 0 1 1171.96 11.66 Z" stroke-linejoin="round" stroke-width="1.05"/><circle cx="1173.9" cy="18.9" r="2.7" stroke-width="1.05"/>
<g stroke-width="0.95"><circle cx="1220.5" cy="12.8" r="2.7"/><circle cx="1209.5" cy="19.1" r="2.7"/><circle cx="1220.5" cy="25.3" r="2.7"/><path d="M1211.9 17.7 L1218.1 14.2 M1211.9 20.5 L1218.1 24"/></g>
<g stroke-width="0.95" stroke-linejoin="round"><path d="M1245.6 13.4 L1258.5 12.9 L1257.6 26.6 L1244.1 25.9 Z" fill="#fff"/><path d="M1247.7 14 L1260.5 12.8 L1261.8 25.4 L1248.3 26.6 Z" fill="#fff"/><path d="M1256.4 13.6 C1255.6 10.8 1259.2 10.2 1259.3 12.9"/></g>
</g>
<path d="M445.6 13.7 L450.6 17.6 L445.6 21.4 M450.3 17.6 H443.6 Q438.4 17.8 438.4 23.7" fill="none" stroke="#c9ccd4" stroke-width="1.3" stroke-linejoin="round"/>
<path d="M473 8.9 L478.3 8.9 L473 14.2 Z" fill="#414959"/><path d="M474.5 10.4 L478.7 14.600000000000001" stroke="#414959" stroke-width="2.1" fill="none"/>
<path d="M491.3 8.9 L486.0 8.9 L491.3 14.2 Z" fill="#414959"/><path d="M489.8 10.4 L485.6 14.600000000000001" stroke="#414959" stroke-width="2.1" fill="none"/>
<path d="M473 27.1 L478.3 27.1 L473 21.8 Z" fill="#414959"/><path d="M474.5 25.6 L478.7 21.400000000000002" stroke="#414959" stroke-width="2.1" fill="none"/>
<path d="M491.3 27.1 L486.0 27.1 L491.3 21.8 Z" fill="#414959"/><path d="M489.8 25.6 L485.6 21.400000000000002" stroke="#414959" stroke-width="2.1" fill="none"/>
<g fill="#454d5d"><rect x="1287.4" y="10.1" width="6.5" height="1.6"/><rect x="1284" y="11.2" width="12.9" height="1.7"/><rect x="1285" y="14" width="11" height="12" rx="0.4"/></g>
</svg>
</div>

<!-- bottom toolbar -->
<div class="bb">
<span class="b" style="left:17px;">5y</span>
<span class="b" style="left:45px;">1y</span>
<span class="b" style="left:73px;">6m</span>
<span class="b" style="left:107px;">1m</span>
<span class="b" style="left:141px;">5d</span>
<div style="position:absolute;left:173px;top:7px;width:1px;height:23px;background:#e0e3eb;"></div>
<span class="b" style="left:190px;">Go to...</span>
<span class="b" style="left:1067px;font-size:13.7px;" dir="ltr">۱۴:۳۸ (UTC+3:30)</span>
<div style="position:absolute;left:1193px;top:7px;width:1px;height:23px;background:#e0e3eb;"></div>
<span class="b" style="left:1209.5px;font-size:15px;">%</span>
<span class="b" style="left:1238px;color:#2196f3;">log</span>
<span class="b" style="left:1271px;color:#2196f3;">auto</span>
</div>
<!-- axis settings icon -->
<svg class="ic" style="left:1260.8px;top:706.5px" width="20" height="20" viewBox="0 0 20 20"><g fill="none" stroke="#222" stroke-width="1.3"><circle cx="10" cy="10" r="4.9"/><path d="M10 2.200 V4.800 M10 15.200 V17.800 M2.200 10 H4.800 M15.200 10 H17.800 M4.500 4.500 L6.300 6.300 M13.700 13.700 L15.500 15.500 M4.500 15.500 L6.300 13.700 M13.700 6.300 L15.500 4.500"/></g></svg>
</body>
</html>
